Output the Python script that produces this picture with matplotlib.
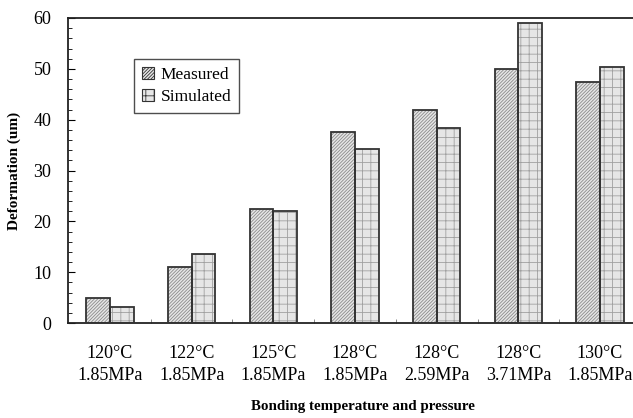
import matplotlib
matplotlib.use("Agg")
import matplotlib.pyplot as plt
import numpy as np
from matplotlib.patches import Patch
from matplotlib.ticker import MultipleLocator, FixedLocator

plt.rcParams['font.family'] = ['Liberation Serif', 'DejaVu Serif']
plt.rcParams['hatch.linewidth'] = 0.6

categories = ["120°C\n1.85MPa", "122°C\n1.85MPa", "125°C\n1.85MPa", "128°C\n1.85MPa",
              "128°C\n2.59MPa", "128°C\n3.71MPa", "130°C\n1.85MPa"]
measured = [5.0, 11.0, 22.5, 37.5, 42.0, 50.0, 47.4]
simulated = [3.2, 13.5, 22.0, 34.2, 38.3, 59.0, 50.3]

fig = plt.figure(figsize=(6.33, 4.18), dpi=100)
ax = fig.add_axes([68/633, 1-323/418, (658-68)/633, (323-18)/418])

x = np.arange(len(categories))
w = 0.29
fill = '#e6e6e6'
edge = '#333333'

# hatch layer
ax.bar(x - w/2, measured, w, color=fill, edgecolor='#8a8a8a', hatch='//////////', linewidth=0, zorder=2)
ax.bar(x + w/2, simulated, w, color=fill, edgecolor='#a0a0a0', hatch='++', linewidth=0, zorder=2)
# outline layer
ax.bar(x - w/2, measured, w, color='none', edgecolor=edge, linewidth=1.3, zorder=3)
ax.bar(x + w/2, simulated, w, color='none', edgecolor=edge, linewidth=1.3, zorder=3)

ax.set_xlim(-0.514, 6.71)
ax.set_ylim(0, 60)
ax.set_xticks(x)
ax.set_xticklabels(categories, fontsize=13, linespacing=1.4)
ax.xaxis.set_minor_locator(FixedLocator(np.arange(len(categories)) + 0.5))
ax.tick_params(axis='x', which='major', length=0, pad=16)
ax.tick_params(axis='x', which='minor', direction='in', length=3, color='#777777')
ax.yaxis.set_major_locator(MultipleLocator(10))
ax.yaxis.set_minor_locator(MultipleLocator(2))
ax.tick_params(axis='y', which='major', direction='in', length=5, labelsize=13, pad=12)
ax.tick_params(axis='y', which='minor', direction='in', length=3)
for s in ['left', 'bottom', 'top']:
    ax.spines[s].set_linewidth(1.3)
    ax.spines[s].set_color('#222222')
ax.spines['right'].set_visible(False)

ax.set_ylabel('Deformation (um)', fontsize=11, fontweight='bold', labelpad=9)
ax.set_xlabel('Bonding temperature and pressure', fontsize=10.8, fontweight='bold', labelpad=11)

handles = [Patch(facecolor=fill, edgecolor=edge, hatch='//////////', linewidth=0.8, label='Measured'),
           Patch(facecolor=fill, edgecolor=edge, hatch='++', linewidth=0.8, label='Simulated')]
leg = ax.legend(handles=handles, loc='upper left', bbox_to_anchor=((134-68)/590, 1-(59-18)/305),
                fontsize=12.5, frameon=True, fancybox=False, edgecolor='#222222',
                handlelength=0.7, handleheight=0.7, handletextpad=0.4, borderpad=0.45,
                labelspacing=0.35, borderaxespad=0)
leg.get_frame().set_linewidth(1.0)

fig.savefig('out.png', dpi=100)
